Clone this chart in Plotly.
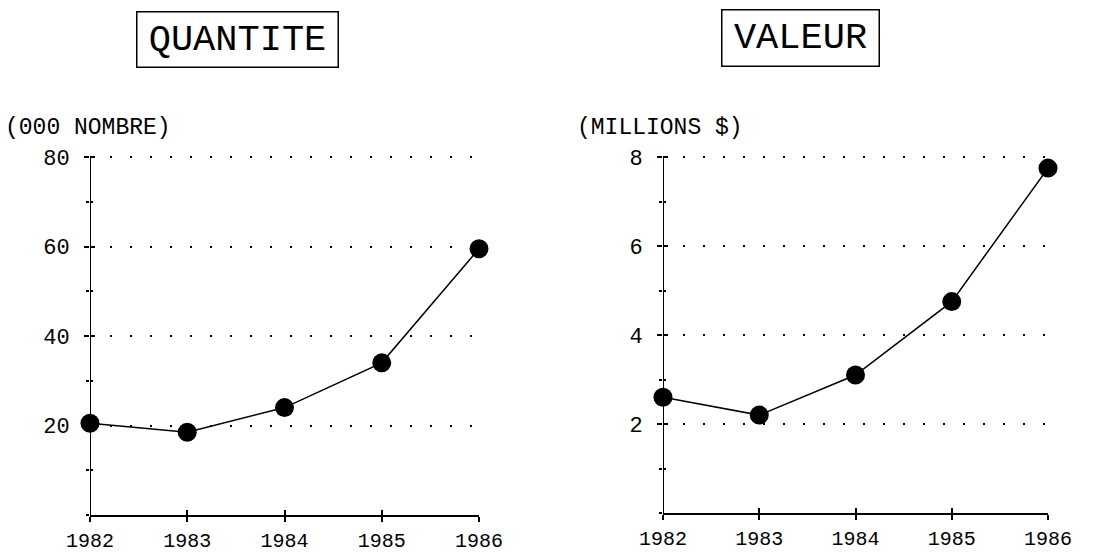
import plotly.graph_objects as go

years = [1982, 1983, 1984, 1985, 1986]
quantite = [20.5, 18.5, 24, 34, 59.5]      # (000 nombre)
valeur = [2.6, 2.2, 3.1, 4.75, 7.75]       # (millions $)
year_labels = ["1982", "1983", "1984", "1985", "1986"]
q_ticks = [20, 40, 60, 80]
v_ticks = [2, 4, 6, 8]

FONT = "Liberation Mono"
W, H = 1103, 553

fig = go.Figure()

line_style = dict(color="black", width=1.5)
marker_style = dict(color="black", size=19, line=dict(width=0))

fig.add_trace(go.Scatter(x=years, y=quantite, mode="lines+markers", line=line_style,
                         marker=marker_style, xaxis="x", yaxis="y", cliponaxis=False,
                         showlegend=False))
fig.add_trace(go.Scatter(x=years, y=valeur, mode="lines+markers", line=line_style,
                         marker=marker_style, xaxis="x2", yaxis="y2", cliponaxis=False,
                         showlegend=False))
# helper traces so the overlay (inside-tick) axes get drawn
fig.add_trace(go.Scatter(x=[None], y=[None], xaxis="x3", yaxis="y3", showlegend=False))
fig.add_trace(go.Scatter(x=[None], y=[None], xaxis="x4", yaxis="y4", showlegend=False))

# pixel geometry: left axis 0->515, 80->157 ; right axis 0->513, 8->157
lx = [90 / W, 479 / W]
rx = [663 / W, 1048 / W]
l_top = 157 - 2 * (515 - 157) / 80
r_top = 157 - 0.2 * (513 - 157) / 8
ly = [1 - 515 / H, 1 - l_top / H]
ry = [1 - 513 / H, 1 - r_top / H]

def xaxis(domain, anchor, labels=True, inside=False, overlay=None):
    d = dict(domain=domain, anchor=anchor, range=[1982, 1986], tickmode="array",
             tickvals=years, ticktext=year_labels, showgrid=False, zeroline=False,
             showline=not inside, linecolor="black", linewidth=2,
             ticks="inside" if inside else "outside", ticklen=5, tickwidth=1.5,
             tickcolor="black", showticklabels=labels,
             tickfont=dict(family=FONT, size=20, color="black"),
             ticklabelstandoff=1, fixedrange=True, automargin=False)
    if overlay:
        d["overlaying"] = overlay
    return d

def yaxis(domain, anchor, rng, tickvals, minor_dtick, labels=True, inside=False, overlay=None):
    d = dict(domain=domain, anchor=anchor, range=rng, tickmode="array",
             tickvals=tickvals, showgrid=not inside, gridcolor="black", gridwidth=1.5,
             griddash="2px,18px", zeroline=False,
             showline=False, linecolor="black", linewidth=2,
             ticks="inside" if inside else "outside", ticklen=5, tickwidth=1.5,
             tickcolor="black", showticklabels=labels,
             tickfont=dict(family=FONT, size=22, color="black"),
             ticklabelstandoff=10, fixedrange=True, automargin=False,
             minor=dict(dtick=minor_dtick, tick0=0, ticks="inside" if inside else "outside",
                        ticklen=3, tickwidth=1.5, tickcolor="black", showgrid=False))
    if overlay:
        d["overlaying"] = overlay
    return d

fig.update_layout(
    width=W, height=H,
    margin=dict(l=0, r=0, t=0, b=0),
    paper_bgcolor="white", plot_bgcolor="rgba(0,0,0,0)",
    xaxis=xaxis(lx, "y"),
    yaxis=yaxis(ly, "x", [0, 82], q_ticks, 10),
    xaxis2=xaxis(rx, "y2"),
    yaxis2=yaxis(ry, "x2", [0, 8.2], v_ticks, 1),
    xaxis3=xaxis(lx, "y3", labels=False, inside=True, overlay="x"),
    yaxis3=yaxis(ly, "x3", [0, 82], q_ticks, 10, labels=False, inside=True, overlay="y"),
    xaxis4=xaxis(rx, "y4", labels=False, inside=True, overlay="x2"),
    yaxis4=yaxis(ry, "x4", [0, 8.2], v_ticks, 1, labels=False, inside=True, overlay="y2"),
)

# vertical axis lines ending exactly at the top tick (80 / 8)
fig.add_trace(go.Scatter(x=[years[0], years[0]], y=[0, q_ticks[-1]], mode="lines",
                         line=dict(color="black", width=2), xaxis="x", yaxis="y",
                         cliponaxis=False, showlegend=False, hoverinfo="skip"))
fig.add_trace(go.Scatter(x=[years[0], years[0]], y=[0, v_ticks[-1]], mode="lines",
                         line=dict(color="black", width=2), xaxis="x2", yaxis="y2",
                         cliponaxis=False, showlegend=False, hoverinfo="skip"))

annotations = [
    dict(text="QUANTITE", x=237 / W, y=1 - 40 / H, width=196, height=50,
         font=dict(family=FONT, size=37, color="black")),
    dict(text="VALEUR", x=800 / W, y=1 - 38 / H, width=152, height=51,
         font=dict(family=FONT, size=37, color="black")),
]
for a in annotations:
    fig.add_annotation(xref="paper", yref="paper", showarrow=False, xanchor="center",
                       yanchor="middle", bordercolor="black", borderwidth=1.5, borderpad=2,
                       **a)

fig.add_annotation(text="(000 NOMBRE)", xref="paper", yref="paper", x=3 / W, y=1 - 128 / H,
                   xanchor="left", yanchor="middle", showarrow=False,
                   font=dict(family=FONT, size=23, color="black"))
fig.add_annotation(text="(MILLIONS $)", xref="paper", yref="paper", x=575 / W, y=1 - 128 / H,
                   xanchor="left", yanchor="middle", showarrow=False,
                   font=dict(family=FONT, size=23, color="black"))

fig.write_html("out.html", config={"displayModeBar": False},
               post_script="document.body.style.margin='0px';")
